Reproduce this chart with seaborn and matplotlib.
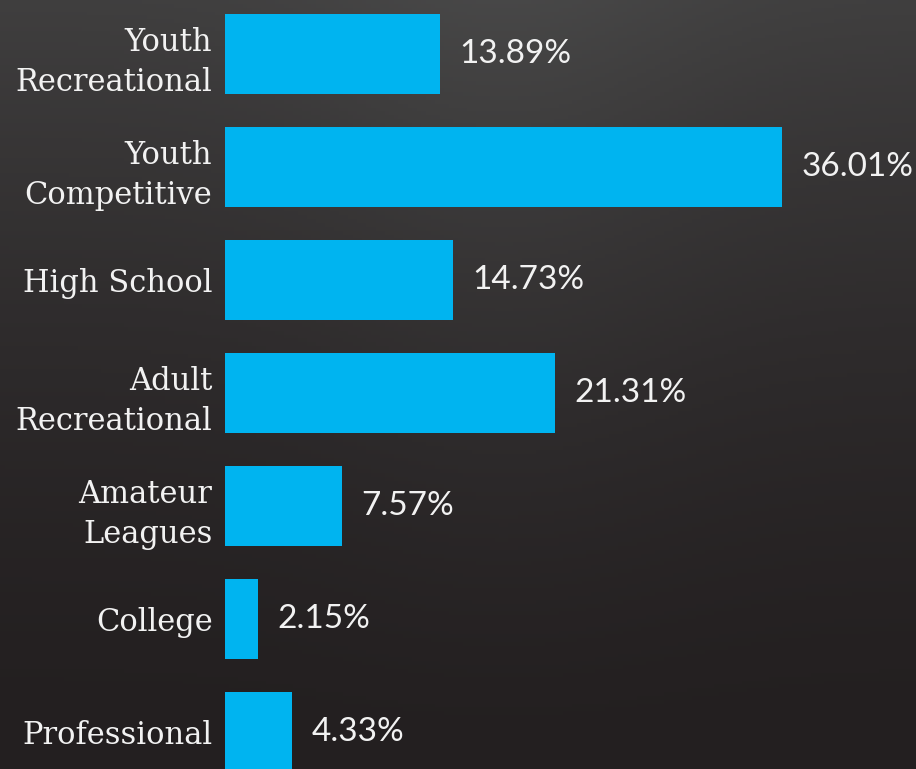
import numpy as np
import matplotlib
matplotlib.use("Agg")
import matplotlib.pyplot as plt
from matplotlib.colors import LinearSegmentedColormap
import seaborn as sns

# Data
categories = ["Youth\nRecreational", "Youth\nCompetitive", "High School",
              "Adult\nRecreational", "Amateur\nLeagues", "College", "Professional"]
shares = [13.89, 36.01, 14.73, 21.31, 7.57, 2.15, 4.33]
share_labels = ["13.89%", "36.01%", "14.73%", "21.31%", "7.57%", "2.15%", "4.33%"]

bar_color = "#00b4f0"
text_color = "#f2f2f2"

sns.set_theme(style="white")

fig = plt.figure(figsize=(9.16, 7.69), dpi=100)

# dark background, a bit lighter towards the top
bg_ax = fig.add_axes([0, 0, 1, 1], zorder=0)
yy, xx = np.mgrid[0:1:200j, 0:1:200j]
shade = 0.55 * (1 - yy) ** 1.6 + 0.15 * np.exp(-((xx - 0.55) ** 2) / 0.05) * (1 - yy)
bg_cmap = LinearSegmentedColormap.from_list("bg", ["#231f20", "#4a4a4a"])
bg_ax.imshow(shade, cmap=bg_cmap, vmin=0, vmax=0.75, aspect="auto",
             extent=[0, 1, 0, 1], origin="upper")
bg_ax.axis("off")

ax = fig.add_axes([225 / 916, 0, 691 / 916, 1], zorder=1)
ax.patch.set_alpha(0)

sns.barplot(x=shares, y=categories, orient="h", color=bar_color,
            saturation=1, width=0.708, linewidth=0, ax=ax)

ax.set_xlim(0, 44.67)
ax.set_ylim(6.327, -0.478)

ax.bar_label(ax.containers[0], labels=share_labels, padding=14,
             color=text_color, fontsize=24, family="Lato")

ax.tick_params(axis="y", length=0, pad=9, labelsize=22, labelcolor=text_color)
for lbl in ax.get_yticklabels():
    lbl.set_family("DejaVu Serif")
    lbl.set_linespacing(1.4)
ax.set_xticks([])
ax.set_xlabel("")
ax.set_ylabel("")
sns.despine(ax=ax, left=True, bottom=True)

fig.savefig("out.png", dpi=100)
